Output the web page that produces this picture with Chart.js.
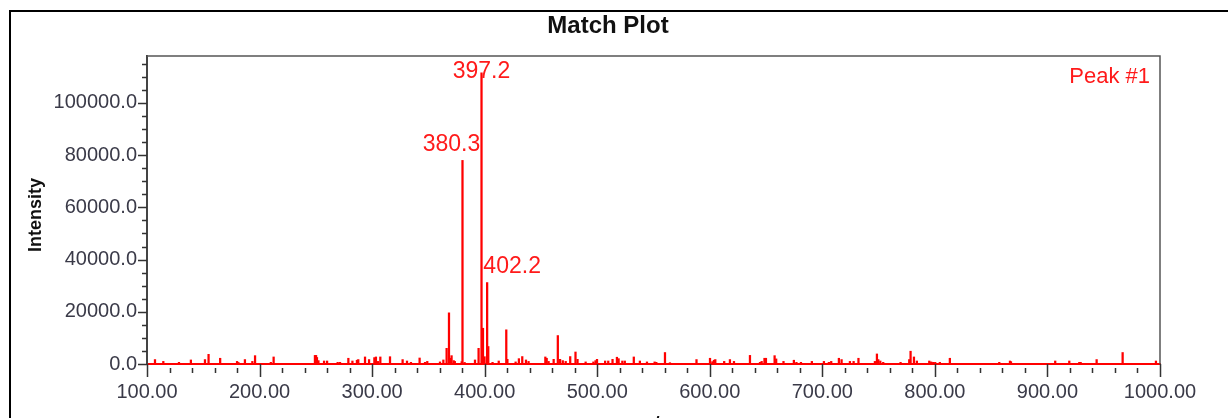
<!DOCTYPE html>
<html>
<head>
<meta charset="utf-8">
<script src="https://cdn.jsdelivr.net/npm/chart.js@4/dist/chart.umd.min.js"></script>
<style>
  html, body { margin: 0; padding: 0; background: #fff; overflow: hidden; }
  #wrap { width: 1228px; height: 418px; position: relative; }
</style>
</head>
<body>
<div id="wrap"><canvas id="c" width="1228" height="418"></canvas></div>
<script>
// Spectrum peaks: m/z positions and their intensities
const mz = [
  107.1, 114.5, 128.4, 139.0, 151.5, 154.7, 165.0, 180.0, 181.2, 187.0,
  193.6, 196.0, 210.0, 212.5, 249.2, 250.2, 251.0, 252.3, 257.3, 260.0,
  269.4, 271.5, 278.9, 282.5, 286.5, 287.7, 293.7, 297.3, 302.0, 303.4,
  305.2, 307.3, 315.9, 327.1, 331.0, 334.5, 342.2, 347.0, 349.0, 360.3,
  363.3, 366.2, 368.3, 369.5, 370.6, 372.5, 373.5, 379.6, 380.3, 382.2,
  391.4, 394.6, 397.2, 398.5, 399.9, 402.2, 403.2, 407.0, 412.5, 419.2,
  420.2, 427.5, 430.4, 433.4, 436.7, 439.0, 453.9, 455.1, 456.8, 461.3,
  465.0, 467.0, 469.4, 472.0, 476.0, 480.7, 482.5, 489.7, 496.6, 498.5,
  499.8, 507.0, 509.8, 513.6, 517.5, 519.0, 522.3, 524.5, 532.5, 537.9,
  544.2, 551.0, 552.5, 560.2, 564.6, 588.2, 600.2, 602.3, 603.7, 604.9,
  612.8, 617.9, 621.5, 635.7, 644.6, 646.1, 648.6, 649.9, 657.6, 659.0,
  665.5, 674.7, 677.0, 681.0, 690.7, 701.4, 705.8, 707.9, 714.7, 717.1,
  724.5, 727.8, 732.1, 746.7, 748.5, 749.7, 751.5, 754.1, 769.5, 777.2,
  778.4, 781.4, 784.0, 795.0, 796.7, 798.5, 800.3, 804.4, 813.3, 857.2,
  866.7, 867.6, 906.9, 919.4, 928.3, 929.5, 943.7, 966.8, 996.4
];
const intensity = [
  1700, 1000, 650, 1550, 1700, 3700, 2200, 1000, 600, 1700,
  1000, 3200, 650, 2700, 3300, 3300, 2500, 1300, 1150, 1150,
  650, 650, 2200, 1150, 1450, 1700, 2700, 1700, 2450, 2700,
  1000, 2700, 2800, 1700, 1150, 650, 2300, 650, 1000, 800,
  1550, 6000, 19600, 2200, 3200, 1300, 1000, 900, 78000, 600,
  1550, 6000, 111600, 13700, 2800, 31200, 6700, 650, 1150, 13100,
  1800, 800, 2050, 2850, 1550, 1000, 2700, 2200, 1000, 1800,
  10900, 1800, 1300, 1000, 2850, 4600, 1800, 800, 800, 1300,
  1800, 1150, 1150, 1800, 2600, 2050, 1150, 1150, 2700, 1150,
  800, 800, 650, 4400, 500, 1700, 2200, 900, 1450, 1700,
  1000, 1700, 1000, 3300, 650, 1000, 2200, 2200, 3200, 1950,
  1000, 1450, 650, 650, 1000, 1000, 650, 1000, 2200, 1700,
  1000, 1000, 2200, 1000, 3850, 1700, 1150, 650, 650, 1700,
  4900, 2700, 1150, 1150, 800, 650, 650, 650, 2200, 650,
  1150, 900, 1150, 1150, 650, 650, 1700, 4400, 1150
];

// Peaks annotated with their m/z
const labeledPeaks = [380.3, 397.2, 402.2];

// Axis ranges and tick positions
const xRange = [100, 1000];
const xTickValues = [100, 200, 300, 400, 500, 600, 700, 800, 900, 1000];
const xMinorStep = 20;
const yMax = 118000;
const yTickValues = [0, 20000, 40000, 60000, 80000, 100000];
const yMinorStep = 5000;

const FONT = "'Liberation Sans', Arial, sans-serif";
const TICK_COLOR = '#3a3a48';

// Label placement (pixel offsets from the peak tip)
const labelOffsets = { '380.3': [-11, -16], '397.2': [0, -1], '402.2': [25, -16] };

const decor = {
  id: 'decor',
  afterDraw(chart) {
    const { ctx, chartArea: a, scales: { x, y } } = chart;
    ctx.save();

    // outer frame
    ctx.strokeStyle = '#000';
    ctx.lineWidth = 2;
    ctx.beginPath();
    ctx.moveTo(10, 430);
    ctx.lineTo(10, 11);
    ctx.lineTo(1240, 11);
    ctx.stroke();

    // plot box top and right edges
    ctx.strokeStyle = '#555';
    ctx.lineWidth = 1.5;
    ctx.beginPath();
    ctx.moveTo(a.left, a.top);
    ctx.lineTo(a.right, a.top);
    ctx.lineTo(a.right, a.bottom);
    ctx.stroke();

    // y-axis tick marks (major ones longer)
    ctx.strokeStyle = '#333';
    ctx.lineWidth = 1.5;
    ctx.beginPath();
    for (let v = 0; v <= yMax; v += yMinorStep) {
      const py = Math.round(y.getPixelForValue(v)) + 0.5;
      const len = yTickValues.includes(v) ? 9 : 5;
      ctx.moveTo(a.left - len, py);
      ctx.lineTo(a.left, py);
    }
    // x-axis tick marks
    for (let v = xRange[0]; v <= xRange[1]; v += xMinorStep) {
      const px = Math.round(x.getPixelForValue(v)) + 0.5;
      if (xTickValues.includes(v)) {
        ctx.moveTo(px, a.bottom);
        ctx.lineTo(px, a.bottom + 13);
      } else {
        ctx.moveTo(px, a.bottom + 4);
        ctx.lineTo(px, a.bottom + 9);
      }
    }
    ctx.stroke();

    // peak annotations
    ctx.fillStyle = '#ff1a1a';
    ctx.font = '23px ' + FONT;
    ctx.textAlign = 'center';
    ctx.textBaseline = 'middle';
    labeledPeaks.forEach(m => {
      const i = mz.indexOf(m);
      const key = m.toFixed(1);
      const off = labelOffsets[key] || [0, -12];
      const px = x.getPixelForValue(m);
      const py = y.getPixelForValue(intensity[i]);
      ctx.fillText(key, px + off[0], py + off[1]);
    });

    ctx.font = '22px ' + FONT;
    ctx.textAlign = 'right';
    ctx.fillText('Peak #1', a.right - 10, 77);

    // title
    ctx.fillStyle = '#111';
    ctx.font = 'bold 24px ' + FONT;
    ctx.textAlign = 'center';
    ctx.fillText('Match Plot', 608, 26);

    // axis titles
    ctx.font = 'bold 18px ' + FONT;
    ctx.textBaseline = 'alphabetic';
    ctx.fillText('m/z', (a.left + a.right) / 2, 429);

    ctx.save();
    ctx.translate(36, 215);
    ctx.rotate(-Math.PI / 2);
    ctx.textBaseline = 'middle';
    ctx.fillText('Intensity', 0, 0);
    ctx.restore();

    ctx.restore();
  }
};

new Chart(document.getElementById('c'), {
  type: 'bar',
  data: {
    datasets: [{
      data: mz.map((m, i) => ({ x: m, y: intensity[i] })),
      backgroundColor: '#ff0000',
      borderWidth: 0,
      barThickness: 1.6
    }]
  },
  options: {
    responsive: false,
    animation: false,
    events: [],
    layout: { padding: { top: 56, right: 68, left: 0, bottom: 0 } },
    plugins: {
      legend: { display: false },
      title: { display: false },
      tooltip: { enabled: false }
    },
    scales: {
      x: {
        type: 'linear',
        min: xRange[0],
        max: xRange[1],
        offset: false,
        grid: { display: false, drawTicks: false, offset: false },
        border: { display: true, color: '#ff0000', width: 2 },
        afterBuildTicks: s => { s.ticks = xTickValues.map(v => ({ value: v })); },
        ticks: {
          autoSkip: false,
          maxRotation: 0,
          padding: 16,
          color: TICK_COLOR,
          font: { family: FONT, size: 20 },
          callback: v => Number(v).toFixed(2)
        },
        afterFit: s => { s.height = 54; }
      },
      y: {
        min: 0,
        max: yMax,
        grid: { display: false, drawTicks: false },
        border: { display: true, color: '#444', width: 2 },
        afterBuildTicks: s => { s.ticks = yTickValues.map(v => ({ value: v })); },
        ticks: {
          padding: 10,
          color: TICK_COLOR,
          font: { family: FONT, size: 20 },
          callback: v => Number(v).toFixed(1)
        },
        afterFit: s => { s.width = 147; }
      }
    }
  },
  plugins: [decor]
});
</script>
</body>
</html>
